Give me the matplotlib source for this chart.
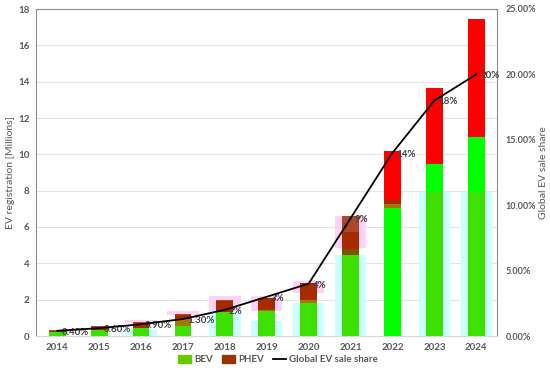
import numpy as np
import matplotlib.pyplot as plt
from matplotlib.patches import Patch
from matplotlib.lines import Line2D

plt.rcParams['font.family'] = ['Lato', 'DejaVu Sans']

years = ['2014', '2015', '2016', '2017', '2018', '2019', '2020', '2021', '2022', '2023', '2024']

# front bars (bright green / red), millions
bev_main = [0.2, 0.32, 0.45, 0.55, 1.3, 1.35, 1.8, 4.8, 7.05, 9.45, 10.95]
phev_main = [0.1, 0.18, 0.27, 0.6, 0.65, 0.75, 1.1, 0.9, 3.11, 4.2, 6.5]

# overlaid bars (olive / brown), starting at over_base
over_base = [0, 0, 0, 0, 0, 0, 0, 0, 7.05, 0, 0]
bev_over = [0.2, 0.33, 0.42, 0.95, 1.34, 1.43, 2.0, 4.45, 0.2, 7.93, 7.93]
phev_over = [0.12, 0.2, 0.33, 0.25, 0.64, 0.67, 0.9, 2.15, 0.22, 0, 0]

# faint glow bars behind (cyan / pink)
glow_bev = [0, 0, 0.4, 0, 1.35, 0.8, 1.8, 4.45, 0, 7.93, 7.93]
glow_phev_low = [0, 0, 0.7, 1.15, 1.35, 1.4, 2.35, 4.85, 0, 0, 0]
glow_phev_high = [0, 0, 0.9, 1.35, 2.2, 2.2, 3.05, 6.6, 0, 0, 0]

# global EV sale share, %
share = [0.4, 0.6, 0.9, 1.3, 2, 3, 4, 9, 14, 18, 20]
share_labels = ['0.40%', '0.60%', '0.90%', '1.30%', '2%', '3%', '4%', '9%', '14%', '18%', '20%']

txt = '#595959'
fs = 7

fig = plt.figure(figsize=(5.5, 3.75), dpi=100)
ax = fig.add_axes([0.066, 0.104, 0.838, 0.872])
x = np.arange(len(years))

glow_phev = np.array(glow_phev_high) - np.array(glow_phev_low)
ax.bar(x, glow_bev, width=0.75, color='#ccffff', zorder=1)
ax.bar(x, glow_phev, width=0.75, bottom=glow_phev_low, color='#ffd2f6', zorder=1)

ax.bar(x, bev_main, width=0.4, color='#00ff00', zorder=2)
ax.bar(x, phev_main, width=0.4, bottom=bev_main, color='#ff0000', zorder=2)

over_top = np.array(over_base) + np.array(bev_over)
ax.bar(x, bev_over, width=0.4, bottom=over_base, color='#66cc00', alpha=0.6, zorder=3)
ax.bar(x, phev_over, width=0.4, bottom=over_top, color='#993300', alpha=0.85, zorder=3)

ax.set_xlim(-0.5, len(years) - 0.5)
ax.set_ylim(0, 18)
ax.set_yticks(np.arange(0, 19, 2))
ax.set_xticks(x)
ax.set_xticklabels(years)
ax.grid(axis='y', color='#e4e4e4', lw=0.8, zorder=0)
ax.set_axisbelow(True)
ax.tick_params(length=0, labelsize=fs, labelcolor=txt, pad=5)
for lab in ax.get_xticklabels() + ax.get_yticklabels():
    lab.set_fontweight('bold')
ax.set_ylabel('EV registration [Millions]', fontsize=7.5, color=txt)
ax.yaxis.set_label_coords(-0.047, 0.5)
for s in ['left', 'top', 'right']:
    ax.spines[s].set_color('#8c8c8c')
ax.spines['bottom'].set_color('#d9d9d9')

ax2 = ax.twinx()
ax2.plot(x, share, color='black', lw=1.3, zorder=5)
for xi, v, lab in zip(x, share, share_labels):
    ax2.annotate(lab, (xi, v), xytext=(3, -1), textcoords='offset points',
                 ha='left', va='center', fontsize=fs, color='#404040', fontweight='bold')
ax2.set_ylim(0, 25)
ax2.set_yticks(np.arange(0, 26, 5))
ax2.set_yticklabels(['%.2f%%' % v for v in np.arange(0, 26, 5)])
ax2.tick_params(length=0, labelsize=6.5, labelcolor=txt, pad=6)
for lab in ax2.get_yticklabels():
    lab.set_fontweight('bold')
ax2.set_ylabel('Global EV sale share', fontsize=7.5, color=txt)
ax2.yaxis.set_label_coords(1.09, 0.5)
for s in ax2.spines.values():
    s.set_visible(False)

handles = [Patch(color='#66cc00'), Patch(color='#993300'), Line2D([], [], color='black', lw=1.3)]
fig.legend(handles, ['BEV', 'PHEV', 'Global EV sale share'], loc='lower center',
           bbox_to_anchor=(0.505, 0.005), ncol=3, frameon=False,
           handlelength=1.4, handleheight=0.8, columnspacing=0.9, handletextpad=0.3,
           labelcolor=txt, prop={'weight': 'bold', 'size': fs})

fig.savefig('out.png', dpi=100)
